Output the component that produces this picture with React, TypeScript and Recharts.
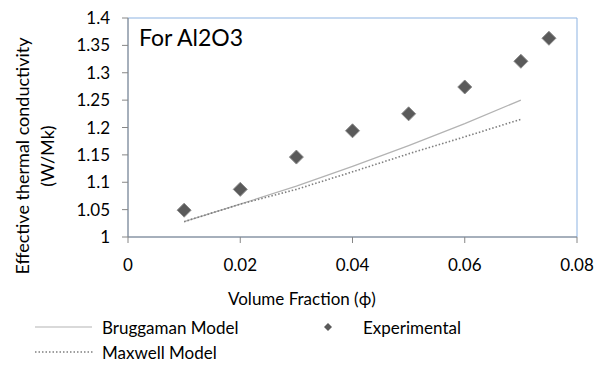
import { ComposedChart, Line, Scatter, XAxis, YAxis, ReferenceArea } from 'recharts';

const fractions = [0.01, 0.02, 0.03, 0.04, 0.05, 0.06, 0.07];
const bruggaman = [1.028, 1.06, 1.093, 1.129, 1.167, 1.207, 1.25];
const maxwell = [1.028, 1.06, 1.087, 1.119, 1.152, 1.183, 1.215];

const expFractions = [0.01, 0.02, 0.03, 0.04, 0.05, 0.06, 0.07, 0.075];
const experimental = [1.049, 1.087, 1.146, 1.194, 1.225, 1.274, 1.321, 1.363];

const xTicks = [0, 0.02, 0.04, 0.06, 0.08];
const yTicks = [1, 1.05, 1.1, 1.15, 1.2, 1.25, 1.3, 1.35, 1.4];

const FONT = 'Lato, "Open Sans", sans-serif';

const lineData = fractions.map((x, i) => ({ x, bruggaman: bruggaman[i], maxwell: maxwell[i] }));
const expData = expFractions.map((x, i) => ({ x, y: experimental[i] }));

function Diamond(props: any) {
  const { cx, cy } = props;
  if (cx == null || cy == null) return null;
  const r = 7;
  return (
    <path
      d={`M${cx},${cy - r}L${cx + r},${cy}L${cx},${cy + r}L${cx - r},${cy}Z`}
      fill="#5a5a5a"
      stroke="#8a8a8a"
      strokeWidth={1}
    />
  );
}

const fmtY = (v: number) => String(Number(v.toFixed(2)));

export default function App() {
  return (
    <div style={{ position: 'relative', width: 595, height: 357, fontFamily: FONT, color: '#000' }}>
      <ComposedChart
        width={595}
        height={357}
        margin={{ top: 10, right: 26, bottom: 98, left: 60 }}
      >
        <ReferenceArea x1={0} x2={0.08} y1={1} y2={1.4} fill="none" stroke="#8db3e2" strokeWidth={1} />
        <XAxis
          dataKey="x"
          type="number"
          domain={[0, 0.08]}
          ticks={xTicks}
          allowDuplicatedCategory={false}
          stroke="#868686"
          tickSize={6}
          tickMargin={16}
          height={30}
          tick={{ fill: '#000', fontSize: 17, fontFamily: FONT }}
          tickFormatter={(v: number) => String(v)}
        />
        <YAxis
          type="number"
          domain={[1, 1.4]}
          ticks={yTicks}
          stroke="#868686"
          tickSize={6}
          tickMargin={12}
          width={60}
          tick={{ fill: '#000', fontSize: 17, fontFamily: FONT }}
          tickFormatter={fmtY}
        />
        <Line
          data={lineData}
          dataKey="bruggaman"
          stroke="#b3b3b3"
          strokeWidth={1.2}
          dot={false}
          type="linear"
          isAnimationActive={false}
        />
        <Line
          data={lineData}
          dataKey="maxwell"
          stroke="#7f7f7f"
          strokeWidth={1.6}
          strokeDasharray="1.5 2"
          dot={false}
          type="linear"
          isAnimationActive={false}
        />
        <Scatter data={expData} dataKey="y" shape={<Diamond />} isAnimationActive={false} />
      </ComposedChart>

      <div style={{ position: 'absolute', left: 131, top: 15, fontSize: 23, whiteSpace: 'nowrap' }}>For Al2O3</div>

      <div
        style={{
          position: 'absolute',
          left: 27 - 150,
          top: 148 - 25,
          width: 300,
          textAlign: 'center',
          transform: 'rotate(-90deg)',
          fontSize: 18,
          lineHeight: '25px',
          whiteSpace: 'nowrap',
        }}
      >
        Effective thermal conductivity
        <br />
        (W/Mk)
      </div>

      <div style={{ position: 'absolute', left: 220, top: 280, fontSize: 17, whiteSpace: 'nowrap' }}>
        Volume Fraction (ϕ)
      </div>

      <svg style={{ position: 'absolute', left: 0, top: 0 }} width={595} height={357}>
        <line x1={27} x2={84} y1={319} y2={319} stroke="#b3b3b3" strokeWidth={1.2} />
        <line x1={27} x2={86} y1={344} y2={344} stroke="#7f7f7f" strokeWidth={1.6} strokeDasharray="1.5 2" />
        <path d="M320,315L324,319L320,323L316,319Z" fill="#5a5a5a" />
      </svg>
      <div style={{ position: 'absolute', left: 94, top: 309, fontSize: 17, whiteSpace: 'nowrap' }}>Bruggaman Model</div>
      <div style={{ position: 'absolute', left: 355, top: 309, fontSize: 17, whiteSpace: 'nowrap' }}>Experimental</div>
      <div style={{ position: 'absolute', left: 94, top: 334, fontSize: 17, whiteSpace: 'nowrap' }}>Maxwell Model</div>
    </div>
  );
}
